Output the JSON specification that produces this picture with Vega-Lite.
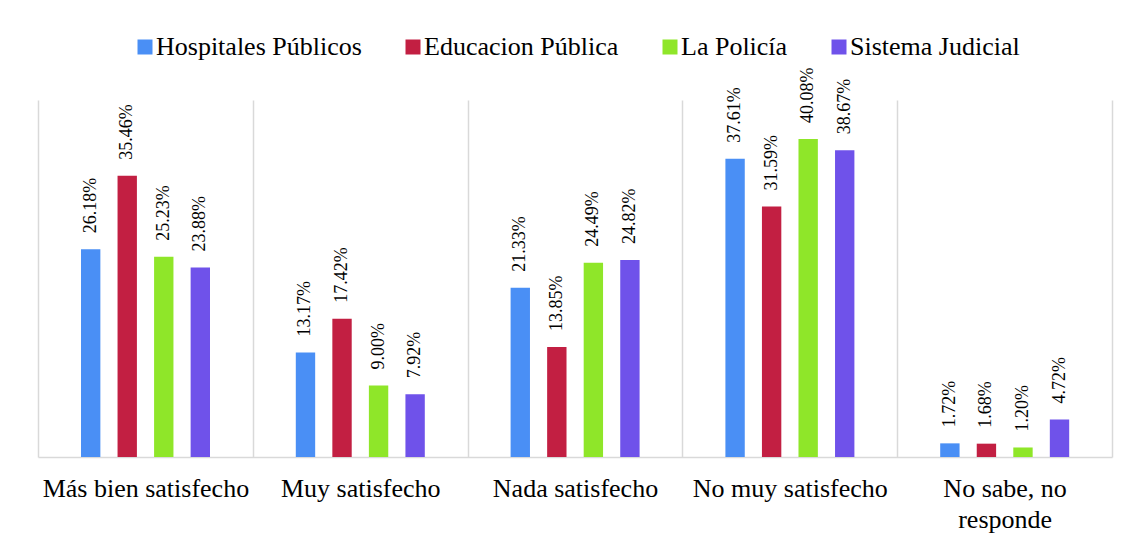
{
  "$schema": "https://vega.github.io/schema/vega-lite/v6.json",
  "width": 1074,
  "height": 357,
  "autosize": {"type": "none"},
  "padding": {"left": 38, "top": 100, "right": 18, "bottom": 87},
  "background": "white",
  "data": {
    "values": [
      {"cat": "Más bien satisfecho", "serie": "Hospitales Públicos", "v": 0.2618},
      {"cat": "Más bien satisfecho", "serie": "Educacion Pública", "v": 0.3546},
      {"cat": "Más bien satisfecho", "serie": "La Policía", "v": 0.2523},
      {"cat": "Más bien satisfecho", "serie": "Sistema Judicial", "v": 0.2388},
      {"cat": "Muy satisfecho", "serie": "Hospitales Públicos", "v": 0.1317},
      {"cat": "Muy satisfecho", "serie": "Educacion Pública", "v": 0.1742},
      {"cat": "Muy satisfecho", "serie": "La Policía", "v": 0.09},
      {"cat": "Muy satisfecho", "serie": "Sistema Judicial", "v": 0.0792},
      {"cat": "Nada satisfecho", "serie": "Hospitales Públicos", "v": 0.2133},
      {"cat": "Nada satisfecho", "serie": "Educacion Pública", "v": 0.1385},
      {"cat": "Nada satisfecho", "serie": "La Policía", "v": 0.2449},
      {"cat": "Nada satisfecho", "serie": "Sistema Judicial", "v": 0.2482},
      {"cat": "No muy satisfecho", "serie": "Hospitales Públicos", "v": 0.3761},
      {"cat": "No muy satisfecho", "serie": "Educacion Pública", "v": 0.3159},
      {"cat": "No muy satisfecho", "serie": "La Policía", "v": 0.4008},
      {"cat": "No muy satisfecho", "serie": "Sistema Judicial", "v": 0.3867},
      {"cat": "No sabe, no responde", "serie": "Hospitales Públicos", "v": 0.0172},
      {"cat": "No sabe, no responde", "serie": "Educacion Pública", "v": 0.0168},
      {"cat": "No sabe, no responde", "serie": "La Policía", "v": 0.012},
      {"cat": "No sabe, no responde", "serie": "Sistema Judicial", "v": 0.0472}
    ]
  },
  "encoding": {
    "x": {
      "field": "cat",
      "type": "nominal",
      "sort": ["Más bien satisfecho", "Muy satisfecho", "Nada satisfecho", "No muy satisfecho", "No sabe, no responde"],
      "scale": {"paddingInner": 0, "paddingOuter": 0},
      "axis": {
        "title": null,
        "domainColor": "#d9d9d9",
        "domainWidth": 1.5,
        "grid": true,
        "gridColor": "#d9d9d9",
        "gridWidth": 1.5,
        "tickBand": "extent",
        "ticks": false,
        "labelFont": "Liberation Serif",
        "labelFontSize": 26,
        "labelColor": "#000000",
        "labelPadding": 18,
        "labelAngle": 0,
        "labelLimit": 400,
        "labelLineHeight": 31,
        "labelExpr": "datum.label == 'No sabe, no responde' ? ['No sabe, no', 'responde'] : datum.label"
      }
    },
    "xOffset": {
      "field": "serie",
      "type": "nominal",
      "sort": ["Hospitales Públicos", "Educacion Pública", "La Policía", "Sistema Judicial"],
      "scale": {"paddingInner": 0.47, "paddingOuter": 0, "range": [43, 172]}
    },
    "y": {
      "field": "v",
      "type": "quantitative",
      "scale": {"domain": [0, 0.45]},
      "axis": null
    }
  },
  "layer": [
    {
      "mark": {"type": "bar"},
      "encoding": {
        "color": {
          "field": "serie",
          "type": "nominal",
          "sort": ["Hospitales Públicos", "Educacion Pública", "La Policía", "Sistema Judicial"],
          "scale": {
            "domain": ["Hospitales Públicos", "Educacion Pública", "La Policía", "Sistema Judicial"],
            "range": ["#4a8ff5", "#c21f42", "#8fe629", "#6f52ea"]
          },
          "legend": {
            "orient": "none",
            "direction": "horizontal",
            "legendX": 94,
            "legendY": -66,
            "title": null,
            "symbolType": "square",
            "symbolSize": 225,
            "symbolStrokeWidth": 0,
            "labelFont": "Liberation Serif",
            "labelFontSize": 26,
            "labelColor": "#000000",
            "labelLimit": 400,
            "columnPadding": 38,
            "labelOffset": -2
          }
        }
      }
    },
    {
      "mark": {
        "type": "text",
        "angle": 270,
        "align": "left",
        "baseline": "middle",
        "dx": 16,
        "font": "Liberation Serif",
        "fontSize": 18,
        "color": "#000000"
      },
      "encoding": {
        "text": {"field": "v", "type": "quantitative", "format": ".2%"}
      }
    }
  ],
  "config": {
    "view": {"stroke": null},
    "font": "Liberation Serif"
  }
}
